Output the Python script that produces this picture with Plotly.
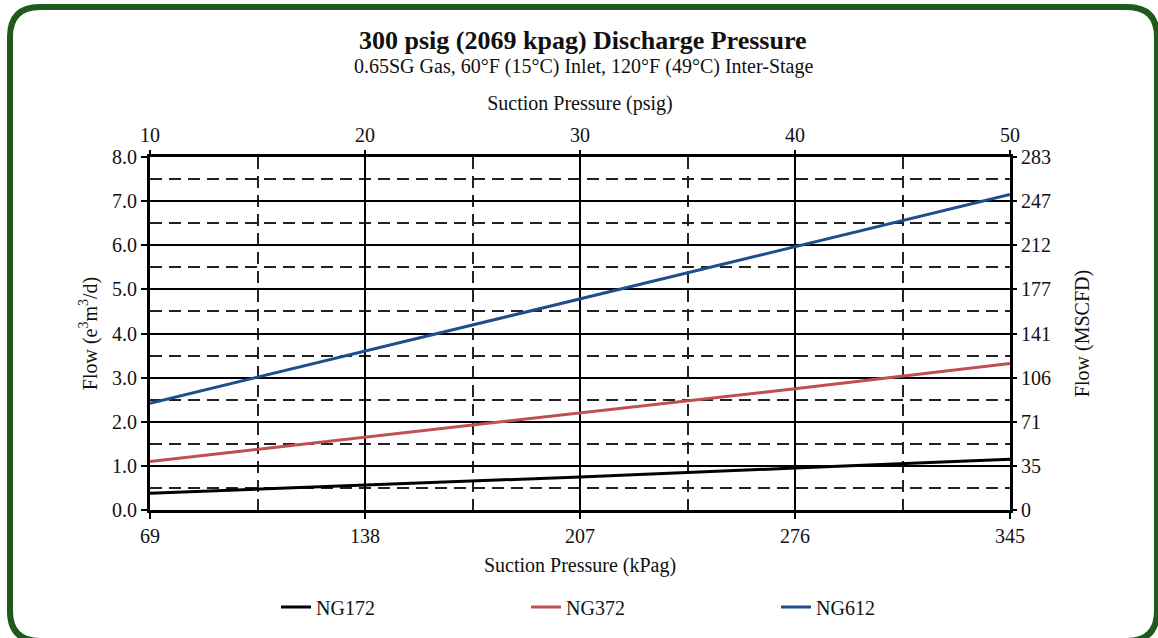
import plotly.graph_objects as go

# ---- data ----
kpag = [69, 138, 207, 276, 345]
psig_labels = ["10", "20", "30", "40", "50"]
ng172 = [0.38, 0.56, 0.75, 0.95, 1.15]
ng372 = [1.10, 1.65, 2.20, 2.75, 3.32]
ng612 = [2.42, 3.60, 4.78, 5.97, 7.15]
flow_ticks = [0, 1, 2, 3, 4, 5, 6, 7, 8]
mscfd_labels = ["0", "35", "71", "106", "141", "177", "212", "247", "283"]
minor_x = [103.5, 172.5, 241.5, 310.5]

FONT = "Liberation Serif"
W, H = 1158, 638
L, R, T, B = 150, 1010, 157, 510

def fx(x):
    return (x - L) / (R - L)

def fy(y):
    return (B - y) / (B - T)

fig = go.Figure()
fig.add_trace(go.Scatter(x=kpag, y=ng172, name="NG172", mode="lines",
                         line=dict(color="#000000", width=3)))
fig.add_trace(go.Scatter(x=kpag, y=ng372, name="NG372", mode="lines",
                         line=dict(color="#c0504d", width=3)))
fig.add_trace(go.Scatter(x=kpag, y=ng612, name="NG612", mode="lines",
                         line=dict(color="#1f4e8c", width=3)))
# hidden trace to activate secondary axes
fig.add_trace(go.Scatter(x=kpag, y=ng612, xaxis="x2", yaxis="y2", mode="lines",
                         line=dict(color="rgba(0,0,0,0)"), showlegend=False,
                         hoverinfo="skip"))

# rounded border
bl, bt, br, bb, rr = 10, 7, 1157, 641, 30
path = (f"M {fx(bl+rr)},{fy(bt)} L {fx(br-rr)},{fy(bt)} Q {fx(br)},{fy(bt)} {fx(br)},{fy(bt+rr)} "
        f"L {fx(br)},{fy(bb-rr)} Q {fx(br)},{fy(bb)} {fx(br-rr)},{fy(bb)} "
        f"L {fx(bl+rr)},{fy(bb)} Q {fx(bl)},{fy(bb)} {fx(bl)},{fy(bb-rr)} "
        f"L {fx(bl)},{fy(bt+rr)} Q {fx(bl)},{fy(bt)} {fx(bl+rr)},{fy(bt)} Z")

tickfont = dict(family=FONT, size=20, color="#111")
titlefont = dict(family=FONT, size=20, color="#111")

fig.update_layout(
    width=W, height=H,
    margin=dict(l=L, r=W - R, t=T, b=H - B, autoexpand=False),
    paper_bgcolor="white", plot_bgcolor="white",
    font=dict(family=FONT, color="#111"),
    showlegend=True,
    legend=dict(orientation="h", x=fx(276), xanchor="left", y=fy(607), yanchor="middle",
                font=dict(family=FONT, size=20, color="#111"),
                entrywidth=205, entrywidthmode="pixels", bgcolor="rgba(0,0,0,0)"),
    xaxis=dict(range=[69, 345], tickvals=kpag, ticktext=[str(v) for v in kpag],
               tickfont=tickfont, ticks="outside", ticklen=6, tickwidth=2, tickcolor="black",
               showline=True, linecolor="black", linewidth=3, mirror=True,
               showgrid=True, gridcolor="black", gridwidth=2,
               minor=dict(tickvals=minor_x, showgrid=True, gridcolor="#222",
                          gridwidth=2, griddash="12px,7px"),
               title=dict(text="Suction Pressure (kPag)", font=titlefont, standoff=12),
               zeroline=False),
    xaxis2=dict(overlaying="x", side="top", range=[69, 345], tickvals=kpag,
                ticktext=psig_labels, tickfont=tickfont, ticks="outside", ticklen=6,
                tickwidth=2, tickcolor="black", showgrid=False, zeroline=False,
                title=dict(text="Suction Pressure (psig)", font=titlefont, standoff=8)),
    yaxis=dict(range=[0, 8], tickvals=flow_ticks, ticktext=[f"{v:.1f}" for v in flow_ticks],
               tickfont=tickfont, ticks="outside", ticklen=6, tickwidth=2, tickcolor="black",
               showline=True, linecolor="black", linewidth=3, mirror=True,
               showgrid=True, gridcolor="black", gridwidth=1.5,
               minor=dict(dtick=0.5, tick0=0, showgrid=True, gridcolor="#222",
                          gridwidth=2, griddash="12px,7px"),
               title=dict(text="Flow (e<sup>3</sup>m<sup>3</sup>/d)", font=titlefont,
                          standoff=10),
               zeroline=False),
    yaxis2=dict(overlaying="y", side="right", range=[0, 8], tickvals=flow_ticks,
                ticktext=mscfd_labels, tickfont=tickfont, ticks="outside", ticklen=6,
                tickwidth=2, tickcolor="black", showgrid=False, zeroline=False,
                title=dict(text="Flow (MSCFD)", font=titlefont, standoff=24)),
    shapes=[dict(type="path", xref="paper", yref="paper", path=path,
                 line=dict(color="#1f5a1a", width=6), fillcolor="rgba(0,0,0,0)",
                 layer="below")],
    annotations=[
        dict(text="<b>300 psig (2069 kpag) Discharge Pressure</b>", xref="paper", yref="paper",
             x=fx(583), y=fy(40), xanchor="center", yanchor="middle", showarrow=False,
             font=dict(family=FONT, size=26, color="#111")),
        dict(text="0.65SG Gas, 60°F (15°C) Inlet, 120°F (49°C) Inter-Stage",
             xref="paper", yref="paper", x=fx(583), y=fy(66), xanchor="center",
             yanchor="middle", showarrow=False, font=dict(family=FONT, size=20, color="#111")),
    ],
)

fig.write_html("out.html", config={"displayModeBar": False},
               post_script="document.body.style.margin='0px';")
